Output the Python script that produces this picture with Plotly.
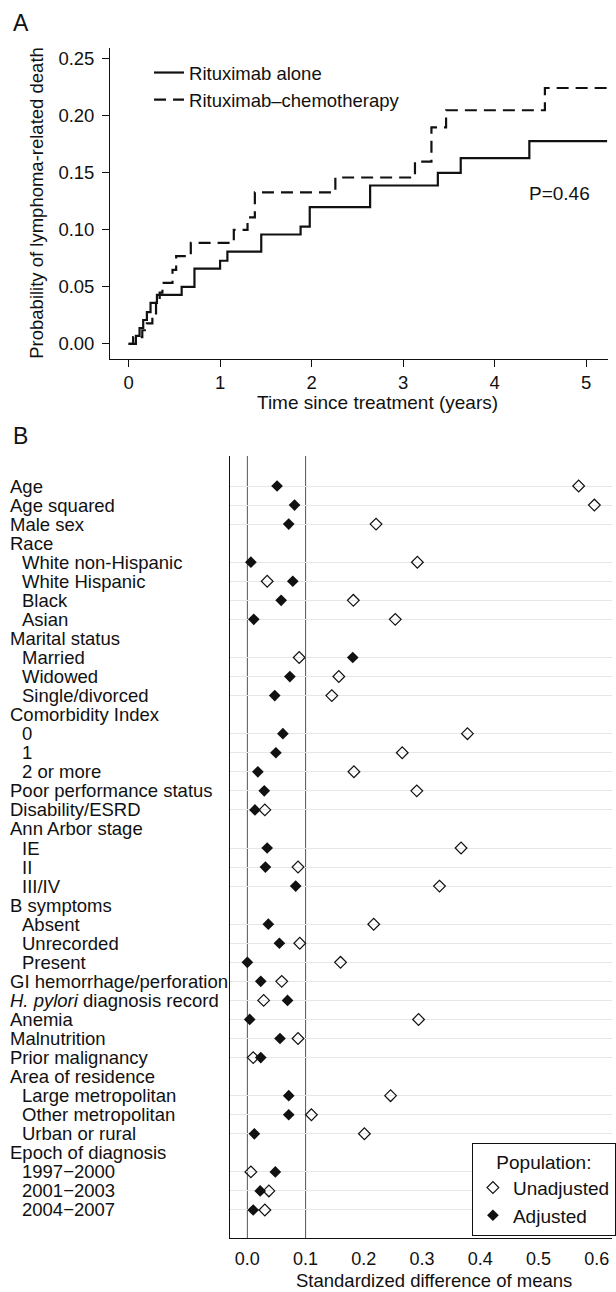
import plotly.graph_objects as go

# ---------------- Panel A data (cumulative incidence, step curves) ----------------
t_alone = [0, 0.08, 0.12, 0.16, 0.20, 0.24, 0.31, 0.58, 0.72, 1.00, 1.08, 1.45, 1.88, 1.98, 2.64, 3.38, 3.63, 4.38, 5.23]
p_alone = [0, 0.007, 0.014, 0.021, 0.028, 0.036, 0.043, 0.050, 0.066, 0.073, 0.081, 0.096, 0.103, 0.120, 0.139, 0.150, 0.163, 0.178, 0.178]

t_chemo = [0, 0.05, 0.15, 0.20, 0.26, 0.30, 0.34, 0.37, 0.48, 0.52, 0.68, 1.15, 1.30, 1.38, 2.26, 3.13, 3.31, 3.47, 4.55, 5.23]
p_chemo = [0, 0.006, 0.012, 0.018, 0.024, 0.036, 0.045, 0.0535, 0.065, 0.077, 0.0886, 0.100, 0.111, 0.133, 0.146, 0.160, 0.190, 0.205, 0.2245, 0.2245]

a_xticks = [0, 1, 2, 3, 4, 5]
a_yticks = [0.00, 0.05, 0.10, 0.15, 0.20, 0.25]

# ---------------- Panel B data (standardized differences) ----------------
labels = ["Age", "Age squared", "Male sex", "Race", "White non-Hispanic", "White Hispanic", "Black", "Asian",
          "Marital status", "Married", "Widowed", "Single/divorced", "Comorbidity Index", "0", "1", "2 or more",
          "Poor performance status", "Disability/ESRD", "Ann Arbor stage", "IE", "II", "III/IV", "B symptoms",
          "Absent", "Unrecorded", "Present", "GI hemorrhage/perforation", "<i>H. pylori</i> diagnosis record",
          "Anemia", "Malnutrition", "Prior malignancy", "Area of residence", "Large metropolitan",
          "Other metropolitan", "Urban or rural", "Epoch of diagnosis", "1997\u22122000", "2001\u22122003", "2004\u22122007"]
level = [0, 0, 0, 0, 1, 1, 1, 1, 0, 1, 1, 1, 0, 1, 1, 1, 0, 0, 0, 1, 1, 1, 0, 1, 1, 1, 0, 0, 0, 0, 0, 0, 1, 1, 1, 0, 1, 1, 1]
unadjusted = [0.569, 0.596, 0.221, None, 0.292, 0.034, 0.182, 0.254, None, 0.089, 0.157, 0.145, None, 0.378, 0.266,
              0.183, 0.291, 0.030, None, 0.367, 0.087, 0.330, None, 0.217, 0.090, 0.160, 0.059, 0.028, 0.294, 0.087,
              0.010, None, 0.246, 0.110, 0.201, None, 0.006, 0.037, 0.030]
adjusted = [0.051, 0.081, 0.071, None, 0.006, 0.078, 0.058, 0.011, None, 0.181, 0.073, 0.047, None, 0.061, 0.049,
            0.018, 0.029, 0.013, None, 0.034, 0.031, 0.083, None, 0.036, 0.055, 0.000, 0.023, 0.069, 0.004, 0.056,
            0.023, None, 0.071, 0.071, 0.012, None, 0.048, 0.022, 0.010]
b_xticks = [0.0, 0.1, 0.2, 0.3, 0.4, 0.5, 0.6]
ref_lines = [0.0, 0.1]

W, H = 616, 1292
FONT = "Liberation Sans, Arial, sans-serif"
INK = "#111111"

rows = list(range(len(labels)))
data_rows = [i for i in rows if unadjusted[i] is not None]

fig = go.Figure()

# Panel A curves
fig.add_trace(go.Scatter(x=t_alone, y=p_alone, mode="lines", line=dict(shape="hv", color=INK, width=2.2),
                         name="Rituximab alone", xaxis="x", yaxis="y", legend="legend"))
fig.add_trace(go.Scatter(x=t_chemo, y=p_chemo, mode="lines",
                         line=dict(shape="hv", color=INK, width=2.2, dash="12px,7px"),
                         name="Rituximab\u2013chemotherapy", xaxis="x", yaxis="y", legend="legend"))

# Panel B markers
fig.add_trace(go.Scatter(x=[unadjusted[i] for i in data_rows], y=data_rows, mode="markers",
                         marker=dict(symbol="diamond-open", size=9, color=INK, line=dict(width=1.2, color=INK)),
                         name="Unadjusted", xaxis="x2", yaxis="y2", legend="legend2"))
fig.add_trace(go.Scatter(x=[adjusted[i] for i in data_rows], y=data_rows, mode="markers",
                         marker=dict(symbol="diamond", size=9, color=INK),
                         name="Adjusted", xaxis="x2", yaxis="y2", legend="legend2"))

for v in ref_lines:
    fig.add_shape(type="line", xref="x2", yref="y2 domain", x0=v, x1=v, y0=0, y1=1,
                  line=dict(color="#555555", width=1), layer="below")

def px_x(p):
    return p / W

def px_y(p):
    return 1 - p / H

annotations = []
for i in rows:
    annotations.append(dict(text=labels[i], xref="paper", x=px_x(8 + 12 * level[i]), xanchor="left",
                            yref="y2", y=i, yanchor="middle", showarrow=False,
                            font=dict(size=18.5, color=INK, family=FONT)))
annotations += [
    dict(text="A", xref="paper", yref="paper", x=px_x(11), y=px_y(23), xanchor="left", yanchor="middle",
         showarrow=False, font=dict(size=23, color=INK, family=FONT)),
    dict(text="B", xref="paper", yref="paper", x=px_x(11), y=px_y(436), xanchor="left", yanchor="middle",
         showarrow=False, font=dict(size=23, color=INK, family=FONT)),
    dict(text="Probability of lymphoma-related death", xref="paper", yref="paper", x=px_x(36), y=px_y(203),
         textangle=-90, xanchor="center", yanchor="middle", showarrow=False,
         font=dict(size=18.5, color=INK, family=FONT)),
    dict(text="Time since treatment (years)", xref="paper", yref="paper", x=px_x(380), y=px_y(402),
         xanchor="center", yanchor="middle", showarrow=False, font=dict(size=19, color=INK, family=FONT)),
    dict(text="Standardized difference of means", xref="paper", yref="paper", x=px_x(437), y=px_y(1280),
         xanchor="center", yanchor="middle", showarrow=False, font=dict(size=18.5, color=INK, family=FONT)),
    dict(text="P=0.46", xref="x", yref="y", x=4.71, y=0.1316, xanchor="center", yanchor="middle",
         showarrow=False, font=dict(size=19, color=INK, family=FONT)),
]

axis_common = dict(showline=True, linecolor=INK, linewidth=1.3, zeroline=False, showgrid=False)

fig.update_layout(
    width=W, height=H, autosize=False,
    margin=dict(l=0, r=0, t=0, b=0),
    paper_bgcolor="white", plot_bgcolor="white",
    font=dict(family=FONT, color=INK, size=18.5),
    showlegend=True,
    xaxis=dict(domain=[px_x(111), px_x(612)], range=[-0.2, 5.24], anchor="y",
               tickvals=a_xticks, ticks="outside", ticklen=7, tickcolor=INK, tickwidth=1.3,
               tickfont=dict(size=18.5, color=INK, family=FONT), **axis_common),
    yaxis=dict(domain=[px_y(359), px_y(48)], range=[-0.0132, 0.2596], anchor="x",
               tickvals=a_yticks, tickformat=".2f", ticks="outside", ticklen=7, tickcolor=INK, tickwidth=1.3,
               ticklabelstandoff=4, tickfont=dict(size=18.5, color=INK, family=FONT), **axis_common),
    xaxis2=dict(domain=[px_x(232), 1.0], range=[-0.029, 0.6263], anchor="y2",
                tickvals=b_xticks, tickformat=".1f", ticks="", ticklabelstandoff=4,
                tickfont=dict(size=18, color=INK, family=FONT), **axis_common),
    yaxis2=dict(domain=[px_y(1238), px_y(456)], range=[39.47, -1.575], anchor="x2",
                tickvals=data_rows, showticklabels=False, ticks="",
                showline=True, linecolor=INK, linewidth=1.3, zeroline=False,
                showgrid=True, gridcolor="#e6e6e6", gridwidth=1),
    legend=dict(x=px_x(150), y=px_y(54), xanchor="left", yanchor="top", bgcolor="rgba(0,0,0,0)",
                borderwidth=0, font=dict(size=18.5, color=INK, family=FONT), tracegroupgap=0),
    legend2=dict(x=px_x(475), y=px_y(1143), xanchor="left", yanchor="top", bgcolor="white",
                 bordercolor=INK, borderwidth=1, itemwidth=30,
                 title=dict(text="Population:", side="top center", font=dict(size=19, color=INK, family=FONT)),
                 font=dict(size=19, color=INK, family=FONT)),
    annotations=annotations,
)

fig.write_html("out.html")
